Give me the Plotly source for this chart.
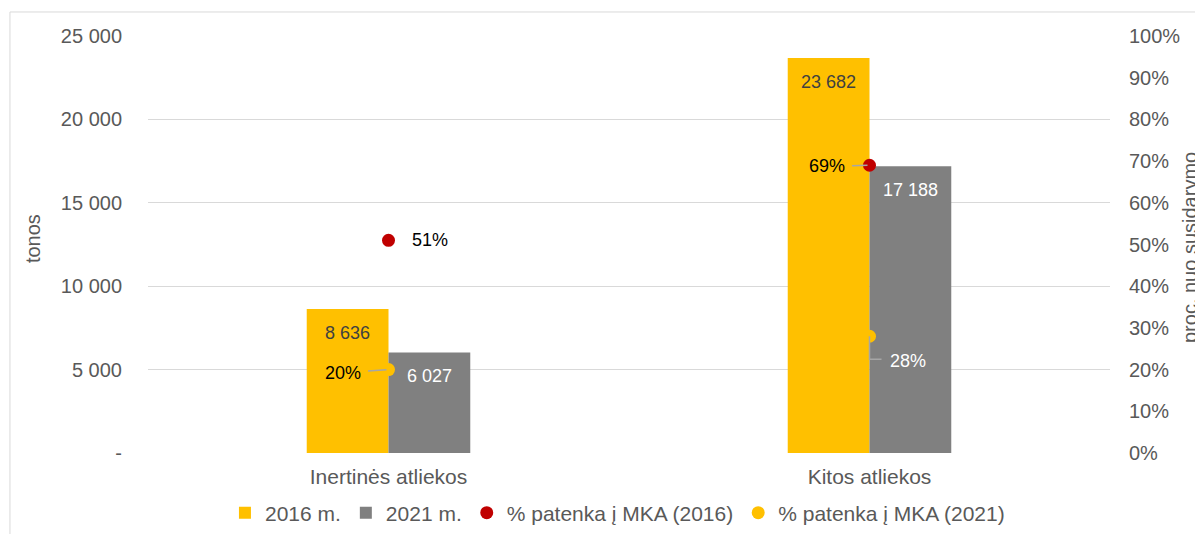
import plotly.graph_objects as go

categories = ["Inertinės atliekos", "Kitos atliekos"]
tons_2016 = [8636, 23682]
tons_2021 = [6027, 17188]
pct_2016 = [51, 69]
pct_2021 = [20, 28]

y_ticks = [0, 5000, 10000, 15000, 20000, 25000]
y_ticktext = ["-", "5 000", "10 000", "15 000", "20 000", "25 000"]
y2_ticks = [i / 10 for i in range(11)]
y2_ticktext = [f"{i * 10}%" for i in range(11)]

FONT = "Liberation Sans, Arial, sans-serif"
GRAY_TXT = "#595959"
YELLOW = "#FFC000"
GRAY = "#808080"
RED = "#C00000"
LEADER = "#A6A6A6"


def fmt(v):
    return f"{v:,}".replace(",", " ")


fig = go.Figure()
fig.add_trace(go.Bar(x=categories, y=tons_2016, name="2016 m.", marker_color=YELLOW,
                     marker_line_width=0))
fig.add_trace(go.Bar(x=categories, y=tons_2021, name="2021 m.", marker_color=GRAY,
                     marker_line_width=0))
fig.add_trace(go.Scatter(x=categories, y=[p / 100 for p in pct_2016], yaxis="y2",
                         mode="markers", name="% patenka į MKA (2016)",
                         marker=dict(color=RED, size=13)))
fig.add_trace(go.Scatter(x=categories, y=[p / 100 for p in pct_2021], yaxis="y2",
                         mode="markers", name="% patenka į MKA (2021)",
                         marker=dict(color=YELLOW, size=13)))

ann = []
# bar value labels
for c, v in zip(categories, tons_2016):
    ann.append(dict(x=c, y=v, xref="x", yref="y", text=fmt(v), showarrow=False,
                    xshift=-41, yshift=-24, yanchor="middle",
                    font=dict(family=FONT, size=18, color="#404040")))
for c, v in zip(categories, tons_2021):
    ann.append(dict(x=c, y=v, xref="x", yref="y", text=fmt(v), showarrow=False,
                    xshift=41, yshift=-24, yanchor="middle",
                    font=dict(family=FONT, size=18, color="white")))

# percentage labels
ann.append(dict(x=categories[0], y=pct_2016[0] / 100, xref="x", yref="y2",
                text=f"{pct_2016[0]}%", showarrow=False, xanchor="left", xshift=21,
                font=dict(family=FONT, size=18, color="#000000")))
ann.append(dict(x=categories[0], y=pct_2021[0] / 100, xref="x", yref="y2",
                text=f"{pct_2021[0]}%", showarrow=True, ax=-46, ay=3, arrowhead=0,
                arrowwidth=1.5, arrowcolor=LEADER, standoff=2, startstandoff=6,
                font=dict(family=FONT, size=18, color="#000000")))
ann.append(dict(x=categories[1], y=pct_2016[1] / 100, xref="x", yref="y2",
                text=f"{pct_2016[1]}%", showarrow=True, ax=-43, ay=1, arrowhead=0,
                arrowwidth=1.5, arrowcolor=LEADER, standoff=2, startstandoff=6,
                font=dict(family=FONT, size=18, color="#000000")))
ann.append(dict(x=categories[1], y=pct_2021[1] / 100, xref="x", yref="y2",
                text=f"{pct_2021[1]}%", showarrow=False, xanchor="left", xshift=18,
                yshift=-25, font=dict(family=FONT, size=18, color="white")))

# axis titles
ann.append(dict(x=-0.1195, y=0.513, xref="paper", yref="paper", text="tonos",
                showarrow=False, textangle=-90, xanchor="center", yanchor="middle",
                font=dict(family=FONT, size=20, color=GRAY_TXT)))
ann.append(dict(x=1.0967, y=0.4916, xref="paper", yref="paper",
                text="proc. nuo susidarymo", showarrow=False, textangle=-90,
                xanchor="right", yanchor="middle",
                font=dict(family=FONT, size=20, color=GRAY_TXT)))

shapes = [
    dict(type="rect", xref="paper", yref="paper", x0=-0.1435, x1=1.3, y0=-0.5, y1=1.0576,
         line=dict(color="#D9D9D9", width=1), fillcolor="rgba(0,0,0,0)", layer="below"),
    dict(type="path", xref="x", yref="y2", xsizemode="pixel", ysizemode="pixel",
         xanchor=1, yanchor=pct_2021[1] / 100, path="M0,0 V-23 H12",
         line=dict(color=LEADER, width=1.5), layer="above"),
]

fig.update_layout(
    width=1195, height=526,
    margin=dict(l=140, r=93, t=28, b=81, autoexpand=False),
    paper_bgcolor="white", plot_bgcolor="white",
    barmode="group", bargap=0.66, bargroupgap=0,
    font=dict(family=FONT, size=20, color=GRAY_TXT),
    xaxis=dict(type="category", range=[-0.5, 1.5], showgrid=False, showline=False,
               zeroline=False, ticks="", tickfont=dict(size=21, color=GRAY_TXT),
               ticklabelstandoff=9),
    yaxis=dict(range=[0, 25000], tickvals=y_ticks, ticktext=y_ticktext,
               showgrid=True, gridcolor="#D9D9D9", gridwidth=1.3, zeroline=False,
               showline=False, ticks="", ticklabelstandoff=25,
               tickfont=dict(size=20, color=GRAY_TXT)),
    yaxis2=dict(range=[0, 1], tickvals=y2_ticks, ticktext=y2_ticktext,
                overlaying="y", side="right", showgrid=False, zeroline=False,
                showline=False, ticks="", ticklabelstandoff=18,
                tickfont=dict(size=20, color=GRAY_TXT)),
    legend=dict(orientation="h", x=0.488, xanchor="center", y=-0.144, yanchor="middle",
                font=dict(size=21, color=GRAY_TXT), bgcolor="rgba(0,0,0,0)",
                itemwidth=30, traceorder="normal"),
    showlegend=True,
    annotations=ann,
    shapes=shapes,
)

fig.write_html("out.html")
